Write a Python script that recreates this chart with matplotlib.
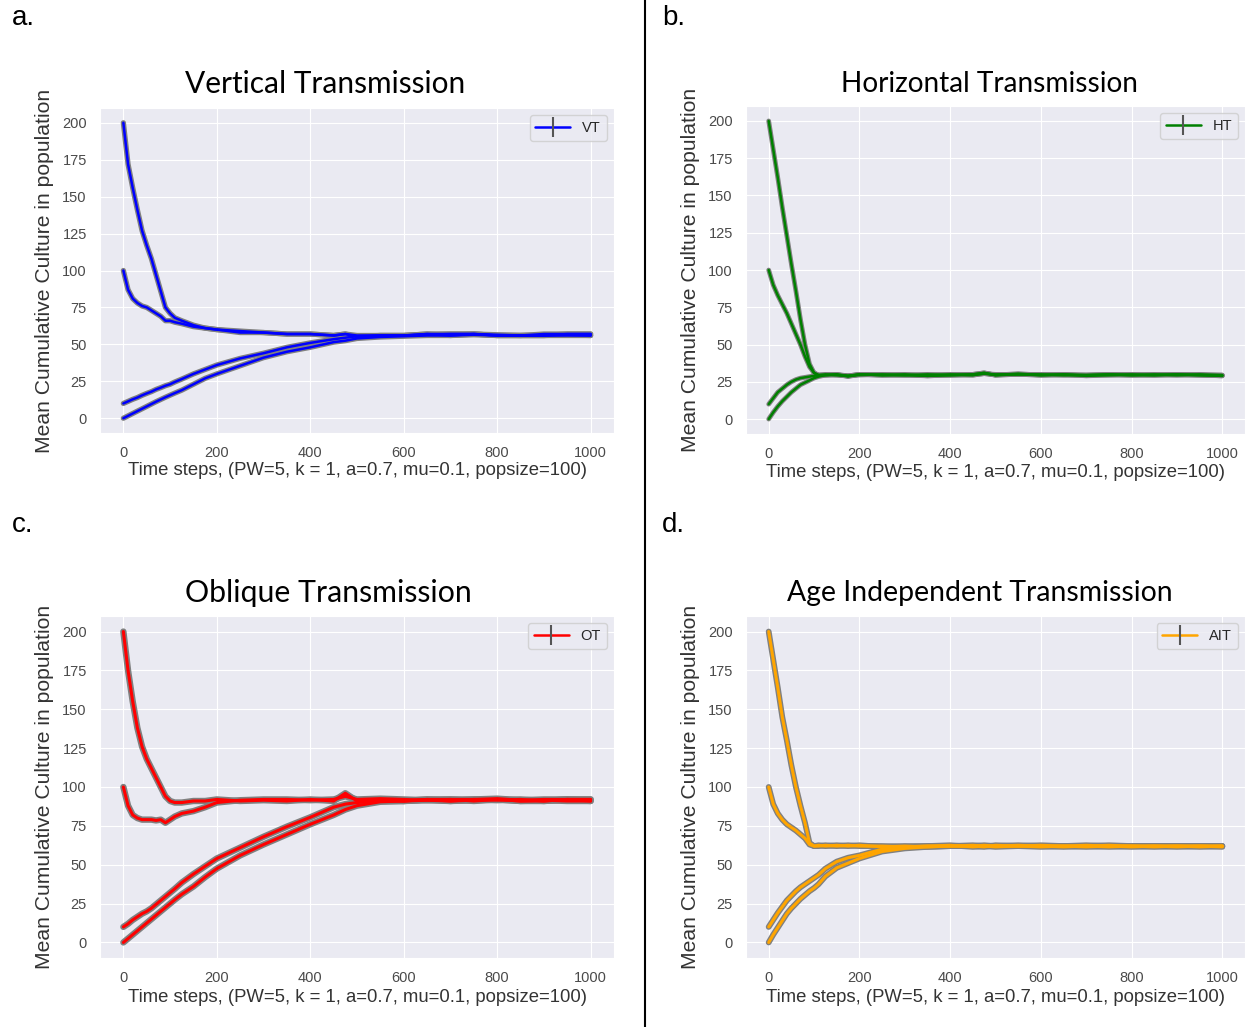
import matplotlib.pyplot as plt
import matplotlib.lines as mlines
import seaborn as sns

sns.set_style('darkgrid')
plt.rcParams['font.family'] = ['Liberation Sans', 'DejaVu Sans']

# time steps at which the mean culture was read
t = [0, 10, 20, 30, 40, 50, 60, 70, 80, 90, 100, 110, 125, 150, 175, 200, 250,
     300, 350, 400, 450, 475, 500, 550, 600, 650, 700, 750, 800, 850, 900, 950, 1000]

# vertical transmission, one run per starting value (200, 100, 10, 0)
vt_200 = [200, 172, 156, 141, 127, 117, 108, 97, 86, 75, 71, 68, 66, 63, 61, 60, 59,
          58, 57, 57, 56, 57, 56, 56, 56, 57, 57, 57, 56, 56, 56, 57, 57]
vt_100 = [100, 87, 81, 78, 76, 75, 73, 71, 69, 66, 66, 65, 64, 62, 61, 60, 58,
          58, 57, 57, 56, 57, 55, 56, 56, 57, 56, 57, 56, 56, 56, 56, 56]
vt_10 = [10, 11.4, 12.8, 14, 15.5, 16.8, 18, 19.5, 20.7, 22, 23, 24.5, 26.5, 30, 33, 36, 40.5,
         44, 48, 51, 53.5, 54.5, 55.5, 56, 56, 56.5, 57, 57, 56.5, 56, 57, 57, 57]
vt_0 = [0, 1.6, 3.2, 4.8, 6.4, 8, 9.6, 11.2, 12.7, 14.2, 15.6, 17, 19, 23, 27, 30, 35.5,
        41, 45, 48, 51.5, 52.5, 54, 55, 55.5, 56, 56, 56.5, 56, 56, 56, 56.5, 56]

# horizontal transmission
ht_200 = [200, 181, 162, 142, 123, 104, 86, 67, 50, 37, 31, 29.5, 29.5, 30, 28.5, 30, 29.5,
          29.5, 29, 29.5, 30, 31, 29.5, 30.5, 29.5, 29.5, 29.5, 30, 29.5, 29.5, 29.5, 29.5, 29]
ht_100 = [100, 90, 83, 77, 71, 64, 57, 50, 42, 35, 31, 29.5, 30, 29.5, 29, 30, 29.5,
          30, 29, 29.5, 29.5, 30.5, 30, 30, 29.5, 30, 29, 29.5, 30, 29.5, 30, 29.5, 29.5]
ht_10 = [10, 14, 18, 20.5, 23, 25, 26.5, 27.5, 28, 28.5, 29, 29.5, 29.5, 30, 29, 29.5, 30,
         29.5, 29.5, 30, 29.5, 30.5, 29.5, 30, 30, 29.5, 29.5, 29.5, 29.5, 30, 29.5, 30, 29.5]
ht_0 = [0, 4.5, 8.5, 12, 15, 18, 20.5, 23, 24.5, 26, 27.5, 28.5, 29.5, 29.5, 29, 30, 29.5,
        29.5, 30, 29.5, 30, 31, 29.5, 30, 29.5, 30, 29.5, 30, 29.5, 29.5, 30, 29.5, 29]

# oblique transmission
ot_200 = [200, 175, 155, 138, 126, 118, 112, 106, 100, 94, 91, 90, 90, 91, 91, 92, 91,
          91.5, 91, 92, 91, 96, 91, 92, 91, 92, 92, 91, 92, 91, 91, 92, 91]
ot_100 = [100, 88, 82, 80, 79, 79, 79, 78.5, 79, 77, 79, 81, 83, 84.5, 87, 90, 91.5,
          92, 92, 91.5, 92, 94, 92, 92.5, 92, 91.5, 92, 92, 92.5, 91.5, 92, 92, 92]
ot_10 = [10, 12, 14.5, 16.5, 18.5, 20, 22, 24.5, 27, 29.5, 32, 34.5, 38.5, 44, 49, 54, 61,
         68, 74.5, 80.5, 87, 89, 90, 91, 91, 91.5, 91, 92, 91.5, 92, 91, 92, 92]
ot_0 = [0, 2.5, 5, 7.5, 10, 12.5, 15, 17.5, 20, 22.5, 25, 27.5, 31, 36, 42, 47.5, 56,
        63, 69.5, 76, 82, 85.5, 88, 90.5, 91, 92, 91, 91.5, 92, 91, 91.5, 91, 91]

# age independent transmission
ait_200 = [200, 182, 164, 145, 130, 114, 100, 88, 77, 64, 62, 62.5, 62, 62.5, 62, 62.5, 61.5,
           62, 61.5, 62, 62, 61.5, 62.5, 62, 62, 62, 61.5, 62, 62, 61.5, 62, 62, 62]
ait_100 = [100, 89, 83, 79, 76, 74, 72, 69.5, 67, 63, 62, 62, 62.5, 62, 62.5, 62, 62,
           61.5, 62, 62.5, 61.5, 62, 62, 62.5, 62, 61.5, 62, 62.5, 62, 62, 61.5, 62, 62]
ait_10 = [10, 14.5, 19, 23, 27, 30, 33, 35.5, 37.5, 39.5, 41.5, 43.5, 47.5, 52, 54.5, 56, 60,
          61.5, 62, 62, 62.5, 62, 61.5, 62, 62.5, 62, 62, 61.5, 62, 62, 62, 61.5, 62]
ait_0 = [0, 5, 9.5, 14, 18.5, 22, 25, 28, 30.5, 33, 35, 37.5, 42.5, 48, 51, 54, 58.5,
         60.5, 61.5, 62, 62, 62.5, 62, 62, 61.5, 62, 62.5, 62, 61.5, 62, 62, 62, 61.5]

panels = [
    ('a.', 'Vertical Transmission', 'VT', 'blue', [vt_200, vt_100, vt_10, vt_0]),
    ('b.', 'Horizontal Transmission', 'HT', 'green', [ht_200, ht_100, ht_10, ht_0]),
    ('c.', 'Oblique Transmission', 'OT', 'red', [ot_200, ot_100, ot_10, ot_0]),
    ('d.', 'Age Independent Transmission', 'AIT', 'orange', [ait_200, ait_100, ait_10, ait_0]),
]

W, H = 1248, 1027
fig = plt.figure(figsize=(W / 100, H / 100), dpi=100)

# axes boxes in pixels: left, top, right, bottom
boxes = [(100, 108, 614, 433), (746, 106, 1245, 434),
         (100, 616, 614, 958), (746, 616, 1245, 958)]
ylabel_x = [54, 700, 54, 700]
title_pos = [(325, 84), (989, 84), (328, 593), (980, 593)]
title_size = [21.5, 20.2, 21.8, 20.4]
letter_pos = [(12, 18), (662, 18), (12, 525), (662, 525)]
halo = [3.8, 3.4, 4.6, 4.2]
lw = [1.8, 1.8, 2.2, 2.2]

for i, (letter, title, lab, color, runs) in enumerate(panels):
    l, tp, r, b = boxes[i]
    ax = fig.add_axes([l / W, 1 - b / H, (r - l) / W, (b - tp) / H])
    for y in runs:
        ax.plot(t, y, color='gray', lw=halo[i], zorder=2)
        ax.plot(t, y, color=color, lw=lw[i], zorder=3)
    ax.set_xlim(-50, 1050)
    ax.set_ylim(-10, 210)
    ax.set_xticks(range(0, 1001, 200))
    ax.set_yticks(range(0, 201, 25))
    ax.tick_params(labelsize=10.5, labelcolor='#4a4a4a', pad=6)
    ax.set_xlabel('Time steps, (PW=5, k = 1, a=0.7, mu=0.1, popsize=100)',
                  fontsize=13.3, color='#333333')
    ax.set_ylabel('Mean Cumulative Culture in population', fontsize=15.2, color='#333333')
    ax.xaxis.set_label_coords(0.5, -0.09)
    ax.yaxis.set_label_coords((ylabel_x[i] - l) / (r - l), 0.5)
    handle = mlines.Line2D([], [], color=color, lw=1.8, marker='|', markersize=14,
                           markeredgecolor='#555555', markeredgewidth=1.5)
    ax.legend([handle], [lab], loc='upper right', fontsize=10.5, handlelength=2.4)

    fig.text(title_pos[i][0] / W, 1 - title_pos[i][1] / H, title, family='Lato',
             fontsize=title_size[i], ha='center', va='center', color='black')
    fig.text(letter_pos[i][0] / W, 1 - letter_pos[i][1] / H, letter,
             fontsize=20, ha='left', va='center', color='black')

# divider between left and right columns
fig.add_artist(mlines.Line2D([645 / W, 645 / W], [0, 1], color='black', lw=1.5,
                             transform=fig.transFigure))

fig.savefig('out.png', dpi=100)
